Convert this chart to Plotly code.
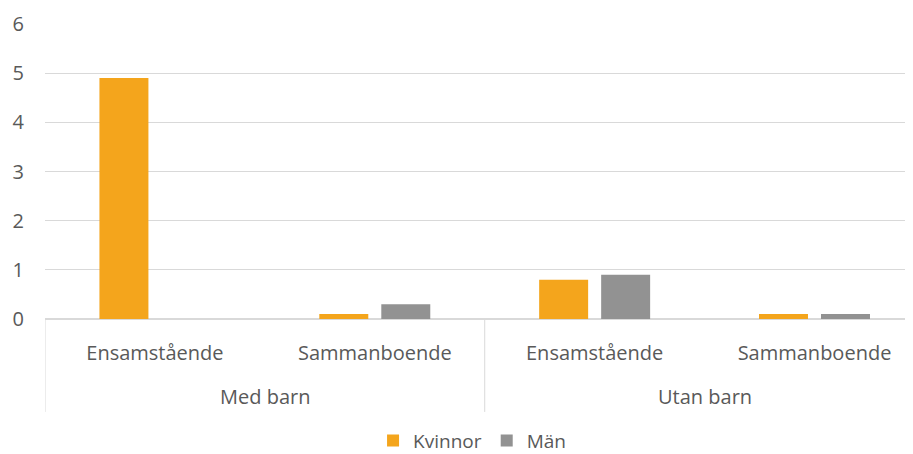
import plotly.graph_objects as go

outer = ["Med barn", "Med barn", "Utan barn", "Utan barn"]
inner = ["Ensamstående", "Sammanboende", "Ensamstående", "Sammanboende"]
kvinnor = [4.9, 0.1, 0.8, 0.1]
man = [None, 0.3, 0.9, 0.1]
yticks = [0, 1, 2, 3, 4, 5, 6]

FONT = "Open Sans"
TXT = "#595959"
GRID = "#d9d9d9"

ids = [f"{o} / {i}" for o, i in zip(outer, inner)]

fig = go.Figure()
fig.add_trace(go.Bar(x=ids, y=kvinnor, name="Kvinnor",
                     marker=dict(color="#F4A51C", line=dict(width=0))))
fig.add_trace(go.Bar(x=ids, y=man, name="Män",
                     marker=dict(color="#929292", line=dict(width=0))))

# outer group labels and dividers, placed on the category scale
groups = []
for k, o in enumerate(outer):
    if not groups or groups[-1][0] != o:
        groups.append([o, k, k])
    else:
        groups[-1][2] = k

for o, a, b in groups:
    fig.add_annotation(x=(a + b) / 2, xref="x", y=-0.264, yref="paper",
                       text=o, showarrow=False, yanchor="middle",
                       font=dict(family=FONT, size=20, color=TXT))
bounds = sorted({g[1] - 0.5 for g in groups} | {g[2] + 0.5 for g in groups})
for xb in bounds:
    fig.add_shape(type="line", xref="x", yref="paper", x0=xb, x1=xb, y0=0, y1=-0.315,
                  line=dict(color=GRID, width=1))

fig.update_layout(
    width=905, height=446,
    margin=dict(l=36.5, r=0, t=16, b=135, autoexpand=False),
    paper_bgcolor="white", plot_bgcolor="white",
    barmode="group", bargap=0.436, bargroupgap=0.21,
    font=dict(family=FONT, size=20, color=TXT),
    showlegend=True,
    legend=dict(orientation="h", x=0.492, xanchor="center", y=-0.412, yanchor="middle",
                font=dict(size=19, color=TXT), traceorder="normal"),
    xaxis=dict(type="category", range=[-0.5, 3.448], showgrid=False, automargin=False,
               tickvals=ids, ticktext=inner, showline=True, linecolor=GRID, linewidth=1,
               tickfont=dict(size=20, color=TXT), ticks="", ticklabelstandoff=16),
    yaxis=dict(range=[0, 6], tickvals=yticks, showgrid=True, gridcolor=GRID, automargin=False,
               gridwidth=1, zeroline=True, zerolinecolor=GRID, showline=False,
               tickfont=dict(size=20, color=TXT), ticks="", ticklabelstandoff=20),
)

fig.write_html("out.html")
